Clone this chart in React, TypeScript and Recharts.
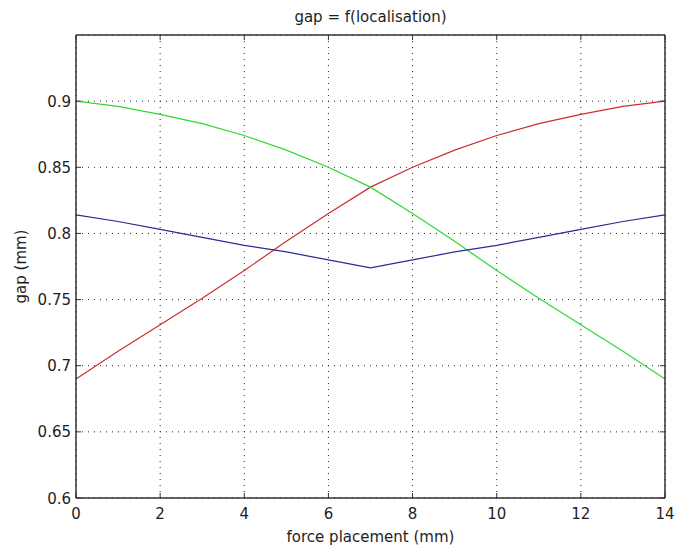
import React from 'react';
import { LineChart, Line, XAxis, YAxis, CartesianGrid, Label } from 'recharts';

const forcePlacement = [0, 1, 2, 3, 4, 5, 6, 7, 8, 9, 10, 11, 12, 13, 14];
const redGap = [0.690, 0.711, 0.731, 0.751, 0.772, 0.794, 0.815, 0.835, 0.850, 0.863, 0.874, 0.883, 0.890, 0.896, 0.900];
const greenGap = [0.900, 0.896, 0.890, 0.883, 0.874, 0.863, 0.850, 0.835, 0.815, 0.794, 0.772, 0.751, 0.731, 0.711, 0.690];
const blueGap = [0.814, 0.809, 0.803, 0.797, 0.791, 0.786, 0.780, 0.774, 0.780, 0.786, 0.791, 0.797, 0.803, 0.809, 0.814];

const xTicks = [0, 2, 4, 6, 8, 10, 12, 14];
const yTicks = [0.6, 0.65, 0.7, 0.75, 0.8, 0.85, 0.9];
const xDomain = [0, 14];
const yDomain = [0.6, 0.95];

const titleText = 'gap = f(localisation)';
const xLabelText = 'force placement (mm)';
const yLabelText = 'gap (mm)';

const data = forcePlacement.map((x, i) => ({
  x,
  red: redGap[i],
  green: greenGap[i],
  blue: blueGap[i],
}));

const FONT = '"DejaVu Sans", sans-serif';
const TEXT_COLOR = '#1e1e1e';
const AXIS_COLOR = '#333';
const TICK_LEN = 5;

const BottomTick = (props: any) => {
  const { x, y, payload } = props;
  return (
    <g>
      <line x1={x} y1={y} x2={x} y2={y - TICK_LEN} stroke={AXIS_COLOR} strokeWidth={1} />
      <text x={x} y={y + 21} textAnchor="middle" fontFamily={FONT} fontSize={15} fill={TEXT_COLOR}>
        {String(payload.value)}
      </text>
    </g>
  );
};

const TopTick = (props: any) => {
  const { x, y } = props;
  return <line x1={x} y1={y} x2={x} y2={y + TICK_LEN} stroke={AXIS_COLOR} strokeWidth={1} />;
};

const LeftTick = (props: any) => {
  const { x, y, payload } = props;
  return (
    <g>
      <line x1={x} y1={y} x2={x + TICK_LEN} y2={y} stroke={AXIS_COLOR} strokeWidth={1} />
      <text x={x - 5} y={y + 5.5} textAnchor="end" fontFamily={FONT} fontSize={15} fill={TEXT_COLOR}>
        {String(payload.value)}
      </text>
    </g>
  );
};

const RightTick = (props: any) => {
  const { x, y } = props;
  return <line x1={x} y1={y} x2={x - TICK_LEN} y2={y} stroke={AXIS_COLOR} strokeWidth={1} />;
};

const TitleLabel = (props: any) => {
  const vb = props.viewBox || { x: 76, y: 34, width: 589, height: 1 };
  return (
    <text x={vb.x + vb.width / 2} y={vb.y + vb.height - 13} textAnchor="middle" fontFamily={FONT} fontSize={15} fill={TEXT_COLOR}>
      {titleText}
    </text>
  );
};

const XTitle = (props: any) => {
  const vb = props.viewBox || { x: 76, y: 498, width: 589, height: 1 };
  return (
    <text x={vb.x + vb.width / 2} y={vb.y + 44} textAnchor="middle" fontFamily={FONT} fontSize={15} fill={TEXT_COLOR}>
      {xLabelText}
    </text>
  );
};

const YTitle = (props: any) => {
  const vb = props.viewBox || { x: 75, y: 35, width: 1, height: 463 };
  const cx = 26;
  const cy = vb.y + vb.height / 2;
  return (
    <text x={cx} y={cy} transform={`rotate(-90 ${cx} ${cy})`} textAnchor="middle" fontFamily={FONT} fontSize={15} fill={TEXT_COLOR}>
      {yLabelText}
    </text>
  );
};

export default function App() {
  return (
    <div style={{ position: 'absolute', left: 0, top: 0, width: 675, height: 548, background: '#fff' }}>
      <LineChart width={675} height={548} data={data} margin={{ top: 34, right: 9, bottom: 49, left: 75 }}>
        <CartesianGrid stroke="#222" strokeDasharray="1 5" strokeWidth={1} />
        <XAxis
          dataKey="x"
          type="number"
          domain={xDomain}
          ticks={xTicks}
          height={1}
          tickSize={0}
          tickMargin={0}
          tickLine={false}
          axisLine={{ stroke: AXIS_COLOR, strokeWidth: 1.5 }}
          tick={BottomTick}
          interval={0}
        >
          <Label content={XTitle} />
        </XAxis>
        <XAxis
          xAxisId="top"
          orientation="top"
          dataKey="x"
          type="number"
          domain={xDomain}
          ticks={xTicks}
          height={1}
          tickSize={0}
          tickMargin={0}
          tickLine={false}
          axisLine={{ stroke: AXIS_COLOR, strokeWidth: 1.5 }}
          tick={TopTick}
          interval={0}
        >
          <Label content={TitleLabel} />
        </XAxis>
        <YAxis
          type="number"
          domain={yDomain}
          ticks={yTicks}
          width={1}
          tickSize={0}
          tickMargin={0}
          tickLine={false}
          axisLine={{ stroke: AXIS_COLOR, strokeWidth: 1.5 }}
          tick={LeftTick}
          interval={0}
          allowDataOverflow
        >
          <Label content={YTitle} />
        </YAxis>
        <YAxis
          yAxisId="right"
          orientation="right"
          type="number"
          domain={yDomain}
          ticks={yTicks}
          width={1}
          tickSize={0}
          tickMargin={0}
          tickLine={false}
          axisLine={{ stroke: AXIS_COLOR, strokeWidth: 1.5 }}
          tick={RightTick}
          interval={0}
          allowDataOverflow
        />
        <Line type="linear" dataKey="red" stroke="#cc2e2e" strokeWidth={1.2} dot={false} isAnimationActive={false} />
        <Line type="linear" dataKey="green" stroke="#33d633" strokeWidth={1.2} dot={false} isAnimationActive={false} />
        <Line type="linear" dataKey="blue" stroke="#2b2b94" strokeWidth={1.2} dot={false} isAnimationActive={false} />
      </LineChart>
    </div>
  );
}
